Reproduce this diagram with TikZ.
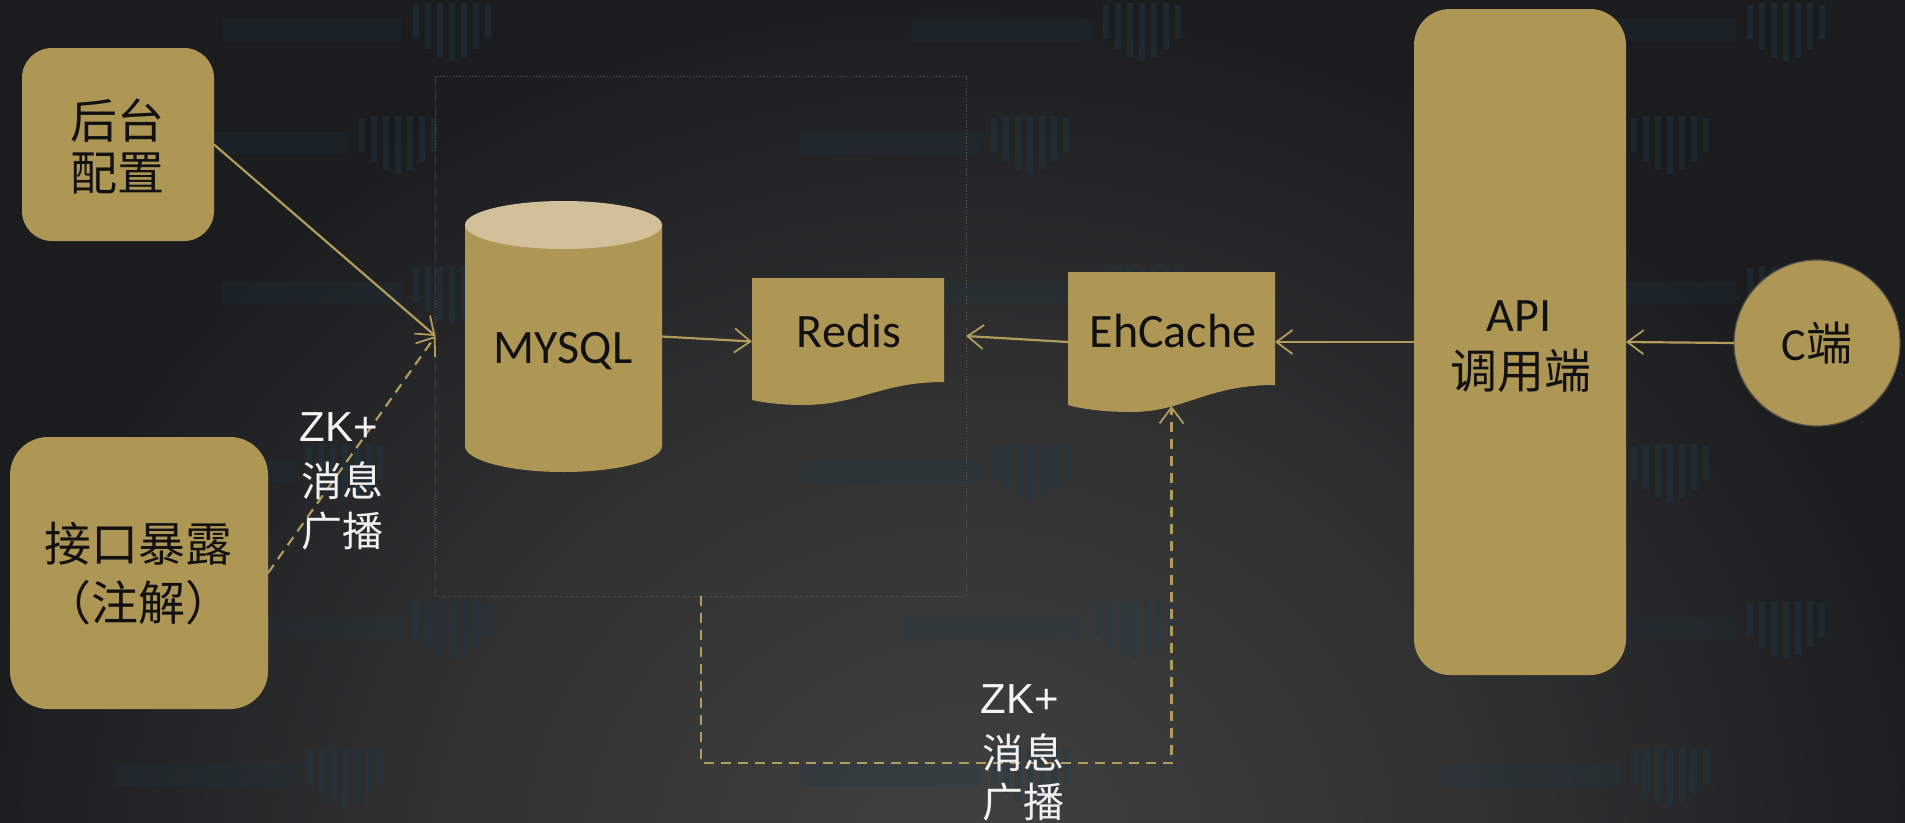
\documentclass[tikz,border=0pt]{standalone}
\usepackage{fontspec}
\setmainfont{Carlito}
\newfontfamily\cjk{Noto Sans CJK SC}
\newfontfamily\arialf{Liberation Sans}
\usetikzlibrary{arrows.meta,shapes.geometric}
\definecolor{gold}{HTML}{AE9655}
\definecolor{goldtop}{HTML}{D1C09A}
\definecolor{linegold}{HTML}{B39B5C}
\definecolor{bgin}{HTML}{414141}
\definecolor{bgmid}{HTML}{313132}
\definecolor{bgout}{HTML}{1B1C1E}
\definecolor{ink}{HTML}{111111}
\definecolor{wmcol}{HTML}{1C3A4A}
\pgfdeclareradialshading{bgglow}{\pgfpointorigin}{color(0bp)=(bgin); color(13bp)=(bgmid); color(25bp)=(bgout); color(50bp)=(bgout)}
\tikzset{
  panel/.style={fill=gold,draw=none,inner sep=0pt,outer sep=0pt},
  void/.style={draw=none,inner sep=0pt,outer sep=0pt},
  cn/.style={text=ink,font=\fontsize{47}{47}\selectfont\cjk,inner sep=0pt},
  lat/.style={text=ink,font=\fontsize{48}{48}\selectfont,inner sep=0pt},
  whitecn/.style={text=white!88!gray,font=\fontsize{41}{41}\selectfont\cjk,inner sep=0pt},
  whitelat/.style={text=white!92!gray,font=\fontsize{42}{42}\selectfont\arialf,inner sep=0pt},
  link/.style={draw=linegold,line width=2.2pt,-{Straight Barb[length=16pt,width=24pt,line width=1.8pt]}},
  dashlink/.style={link,dash pattern=on 10pt off 7pt},
  wmbar/.style={fill=wmcol,opacity=.22,draw=none},
  wmstripe/.style={draw=wmcol,opacity=.42,line width=6pt},
  mark pic/.pic={
    \fill[wmbar] (0,-8) rectangle (180,14);
    \draw[wmstripe] (194,-22) -- (194,12);
    \draw[wmstripe] (206,-24) -- (206,22);
    \draw[wmstripe] (218,-24) -- (218,30);
    \draw[wmstripe] (230,-24) -- (230,34);
    \draw[wmstripe] (242,-24) -- (242,30);
    \draw[wmstripe] (254,-24) -- (254,22);
    \draw[wmstripe] (266,-22) -- (266,12);
  }
}
\begin{document}
\begin{tikzpicture}[x=1pt,y=-1pt]
\useasboundingbox (0,0) rectangle (1905,822);
\fill[bgout] (0,0) rectangle (1905,822);
\begin{scope}
  \clip (0,0) rectangle (1905,822);
  \shade[shading=bgglow] (-40,-20) rectangle (1960,1740);
\end{scope}

% faint watermarks
\foreach \wx/\wy in {
  222/27,912/27,1556/27,
  168/140,800/140,1440/140,
  222/290,912/290,1556/290,
  115/468,800/468,1440/468,
  222/625,904/625,1556/625,
  115/772,800/772,1440/772}
  \pic at (\wx,\wy) {mark pic};

% boxes
\node[panel,rounded corners=30pt,minimum width=192pt,minimum height=193pt] (cfg) at (118,144.5) {};
\node[panel,rounded corners=38pt,minimum width=258pt,minimum height=272pt] (port) at (139,573) {};
\node[void,minimum width=530.5pt,minimum height=520pt] (frame) at (700.7,336) {};
\draw[gray!60!black,line width=.9pt,dash pattern=on 1.6pt off 1.6pt] (frame.south west) rectangle (frame.north east);

% cylinder
\node[void,minimum width=197pt,minimum height=271pt] (mysql) at (563.5,336.5) {};
\fill[gold] (465,225) -- (465,446) arc[start angle=180,end angle=0,x radius=98.5,y radius=26] -- (662,225) -- cycle;
\fill[goldtop] (563.5,225) ellipse[x radius=98.5,y radius=24];

% documents
\node[void,minimum width=192pt,minimum height=127pt] (redis) at (848,341.5) {};
\fill[gold] (752,278) -- (944,278) -- (944,382) .. controls (880,382) and (860,405) .. (802,405) .. controls (785,405) and (765,403) .. (752,400) -- cycle;
\node[void,minimum width=207pt,minimum height=140pt] (ehcache) at (1171.5,342) {};
\fill[gold] (1068,272) -- (1275,272) -- (1275,385) .. controls (1205,385) and (1185,412) .. (1131,412) .. controls (1110,412) and (1085,410) .. (1068,405) -- cycle;

\node[panel,rounded corners=36pt,minimum width=212pt,minimum height=666pt] (api) at (1520,342) {};
\node[panel,circle,minimum size=166pt,draw=goldtop!22!bgmid,line width=1.2pt] (cend) at (1817,343) {};

% connectors
\draw[link] (cfg.east) -- (frame.west);
\draw[dashlink] (port.east) -- (frame.west);
\draw[link] (mysql.east) -- (redis.west);
\draw[link] (ehcache.west) -- (frame.east);
\draw[link] (api.west) -- (ehcache.east);
\draw[link] (cend.west) -- (api.east);
\coordinate (ehtip) at (1171.5,406);
\coordinate (turn) at (700.7,763);
\draw[dashlink] (frame.south) -- (turn) -| (ehtip);

% texts
\node[cn] (t1) at (117.5,121) {后台};
\node[cn] (t2) at (117.5,173) {配置};
\node[cn] (t3) at (138,544) {接口暴露};
\node[cn] (t4) at (138,603) {（注解）};
\node[lat] (t5) at (563,351) {MYSQL};
\node[lat] (t6) at (849,331) {Redis};
\node[lat] (t7) at (1173,331) {EhCache};
\node[lat] (t8) at (1519,316) {API};
\node[cn] (t9) at (1521,371) {调用端};
\node[inner sep=0pt,text=ink] (t10) at (1817,343) {\fontsize{46}{46}\selectfont C\cjk 端};
\node[whitelat] (l1) at (339,427) {ZK+};
\node[whitecn] (l2) at (342,481) {消息};
\node[whitecn] (l3) at (342,531) {广播};
\node[whitelat] (l4) at (1020,699) {ZK+};
\node[whitecn] (l5) at (1023,753) {消息};
\node[whitecn] (l6) at (1023,802) {广播};
\end{tikzpicture}
\end{document}
